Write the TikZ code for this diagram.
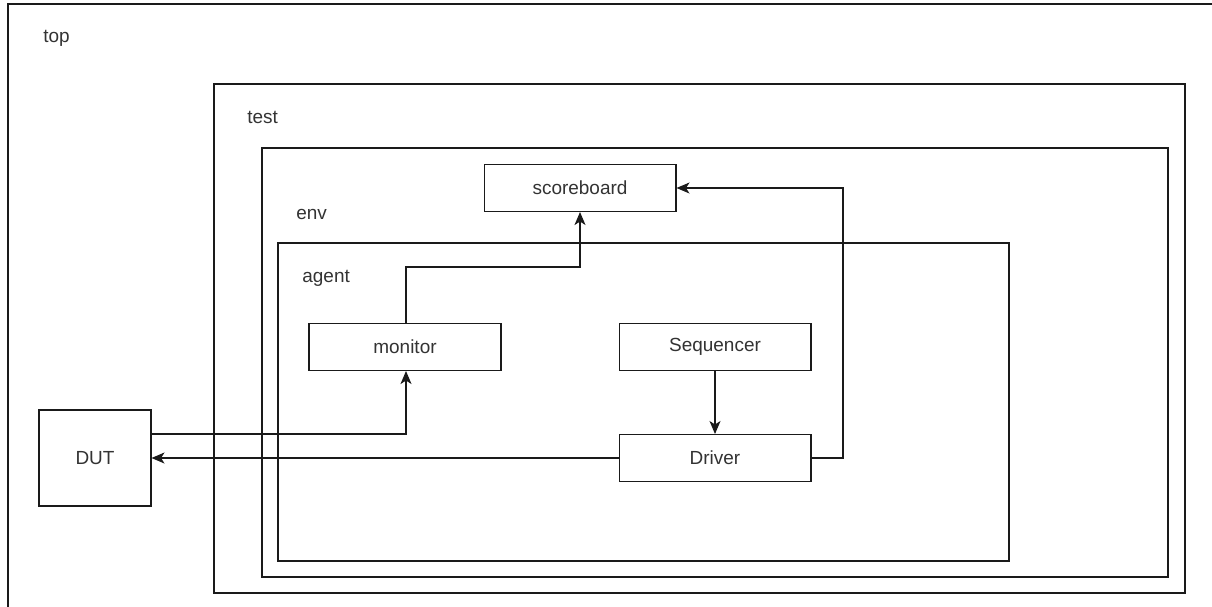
\documentclass[tikz,border=0pt]{standalone}
\usepackage{fontspec}
\setmainfont{Liberation Sans}
\usetikzlibrary{arrows.meta, positioning}
\definecolor{uvmLine}{HTML}{1A1A1A}
\definecolor{uvmText}{HTML}{333333}

\tikzset{
  comp/.style={draw=uvmLine, line width=0.6pt, fill=white, text=uvmText,
    minimum width=3.84cm, minimum height=0.94cm, inner sep=0pt},
  layer/.style={draw=uvmLine, line width=0.6pt},
  tag/.style={anchor=west, text=uvmText, inner sep=0pt},
  link/.style={draw=uvmLine, line width=0.6pt,
    -{Stealth[length=2.6mm, width=2.2mm, inset=0.7mm]}},
}

\begin{document}
\begin{tikzpicture}[x=0.02cm, y=-0.02cm, font=\fontsize{10.8}{13}\selectfont]
        \useasboundingbox (0,0) rectangle (1212,606);
        \clip (0,0) rectangle (1212,606);
        % Capas anidadas
        \draw[layer] (8,4) rectangle (1230,630);
        \foreach \xa/\ya/\xb/\yb in
          {214/84/1185/593,
           262/148/1168/577,
           278/243/1009/561}
        {
          \draw[layer] (\xa,\ya) rectangle (\xb,\yb);
        }
        \node[tag] (lbltop) at (43,38) {top};
        \node[tag] (lbltest) at (247,117) {test};
        \node[tag] (lblenv) at (296,214) {env};
        \node[tag] (lblagent) at (302,278) {agent};

        % Componentes
        \node[comp] (score) at (580,188) {scoreboard};
        \node[comp] (mon) at (405,347) {monitor};
        \node[comp] (seq) at (715,347) {Sequencer};
        \node[comp] (drv) at (715,458) {Driver};
        \node[comp, minimum width=2.24cm, minimum height=1.92cm] (dut) at (95,458) {DUT};

        % Conexiones
        \coordinate (monup) at (406,267);
        \coordinate (drvout) at (843,188);
        \draw[link] (mon.north -| monup) |- (monup) -| (score.south);
        \draw[link] (dut.east |- 0,434) -| (monup |- mon.south);
        \draw[link] (drv.west) -- (dut.east);
        \draw[link] (drv.east) -| (drvout) -- (score.east);
        \draw[link] (seq.south) -- (drv.north);
      \end{tikzpicture}
\end{document}
